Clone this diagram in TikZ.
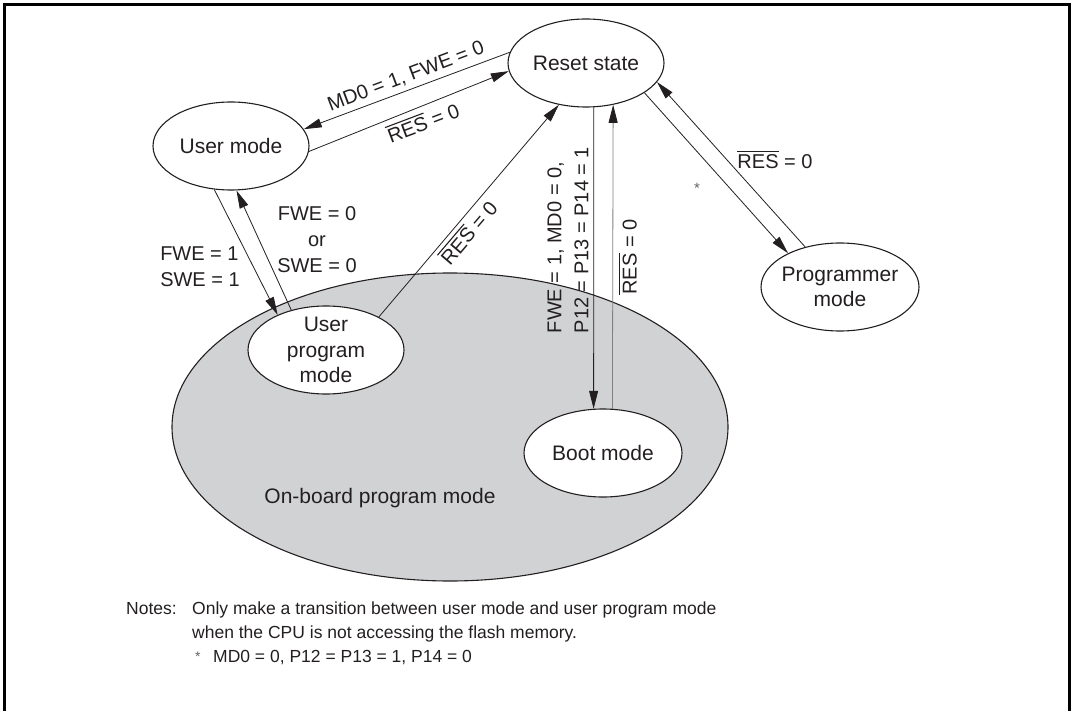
\documentclass[tikz,border=0pt]{standalone}
\usepackage{fontspec}
\setmainfont{Liberation Sans}
\usetikzlibrary{arrows.meta,shapes.geometric}
\definecolor{obgray}{HTML}{D1D2D4}
\definecolor{ink}{HTML}{231F20}
\newcommand\resb{\setbox0\hbox{RES}\rlap{\rule[\dimexpr\ht0+2.2pt\relax]{\wd0}{1.1pt}}\box0}
\begin{document}
\begin{tikzpicture}[x=1pt,y=-1pt,
  st/.style={ellipse,draw=ink,line width=1.1pt,fill=white,inner sep=0pt},
  ntxt/.style={font=\fontsize{21}{25.5}\selectfont,align=center,text=ink,inner sep=0pt},
  lab/.style={font=\fontsize{20}{26}\selectfont,text=ink,inner sep=0pt},
  arr/.style={draw=ink,line width=0.8pt,-{Triangle[length=18pt,width=9pt,color=ink]}},
  notes/.style={font=\fontsize{17.5}{24}\selectfont,text=ink,inner sep=0pt,anchor=base west},
]
\useasboundingbox (0,0) rectangle (1075,711);
\draw[line width=3pt] (4,720) -- (4,4.2) -- (1069.5,4.2) -- (1069.5,720);

% on-board region
\node[ellipse,draw=ink,line width=1.1pt,fill=obgray,minimum width=556,minimum height=308,inner sep=0pt] (ob) at (450,427) {};
\node[ntxt] (obt) at (380,498) {On-board program mode};

% states
\node[st,minimum width=156,minimum height=88,label={[ntxt]center:Reset state}] (rs) at (586,63) {};
\node[st,minimum width=156,minimum height=88,label={[ntxt]center:User mode}] (um) at (231,146) {};
\node[st,minimum width=156,minimum height=88,label={[ntxt]center:{User\\program\\mode}}] (upm) at (326,350) {};
\node[st,minimum width=158,minimum height=88,label={[ntxt]center:Boot mode}] (bm) at (603,453) {};
\node[st,minimum width=158,minimum height=88,label={[ntxt]center:{Programmer\\mode}}] (pm) at (840,287) {};

% connectors
\draw[arr] (rs.172) -- (um.13);
\draw[arr] (um.-4) -- (rs.186);
\draw[arr] (um.249.6) -- (upm.144);
\draw[arr] (upm.131) -- (um.277.6);
\draw[arr] (upm.32.7) -- (rs.237.6);
\draw[arr] (rs.-80.9) -- (bm.102.9);
\draw[arr,draw=gray] (bm.78.4) -- (rs.-57.9);
\draw[arr] (rs.-27.8) -- (pm.147.3);
\draw[arr] (pm.131.2) -- (rs.-15.5);

% labels
\node[lab,rotate=20.7] (l1) at (406,77) {MD0 = 1, FWE = 0};
\node[lab,rotate=20.7] (l2) at (423,122) {\resb{} = 0};
\node[lab,align=left] (l3) at (200,267) {FWE = 1\\SWE = 1};
\node[lab,align=center] (l4) at (317,240) {FWE = 0\\or\\SWE = 0};
\node[lab,rotate=49.5] (l5) at (468,232) {\resb{} = 0};
\node[lab,rotate=90,align=left,font=\fontsize{20}{27}\selectfont] (l6) at (568,240) {FWE = 1, MD0 = 0,\\P12 = P13 = P14 = 1};
\node[lab,rotate=90] (l7) at (628,257) {\resb{} = 0};
\node[lab] (l8) at (775,160) {\resb{} = 0};
\node[lab,font=\fontsize{15}{15}\selectfont,text=ink!70] (l9) at (697,188) {*};

% notes
\node[notes] (n0) at (126,614) {Notes:};
\node[notes] (n1) at (192,614) {Only make a transition between user mode and user program mode};
\node[notes] (n2) at (192,638) {when the CPU is not accessing the flash memory.};
\node[notes,font=\fontsize{14}{14}\selectfont,text=ink!70] (n3) at (195,661) {*};
\node[notes] (n4) at (213,662) {MD0 = 0, P12 = P13 = 1, P14 = 0};
\end{tikzpicture}
\end{document}
